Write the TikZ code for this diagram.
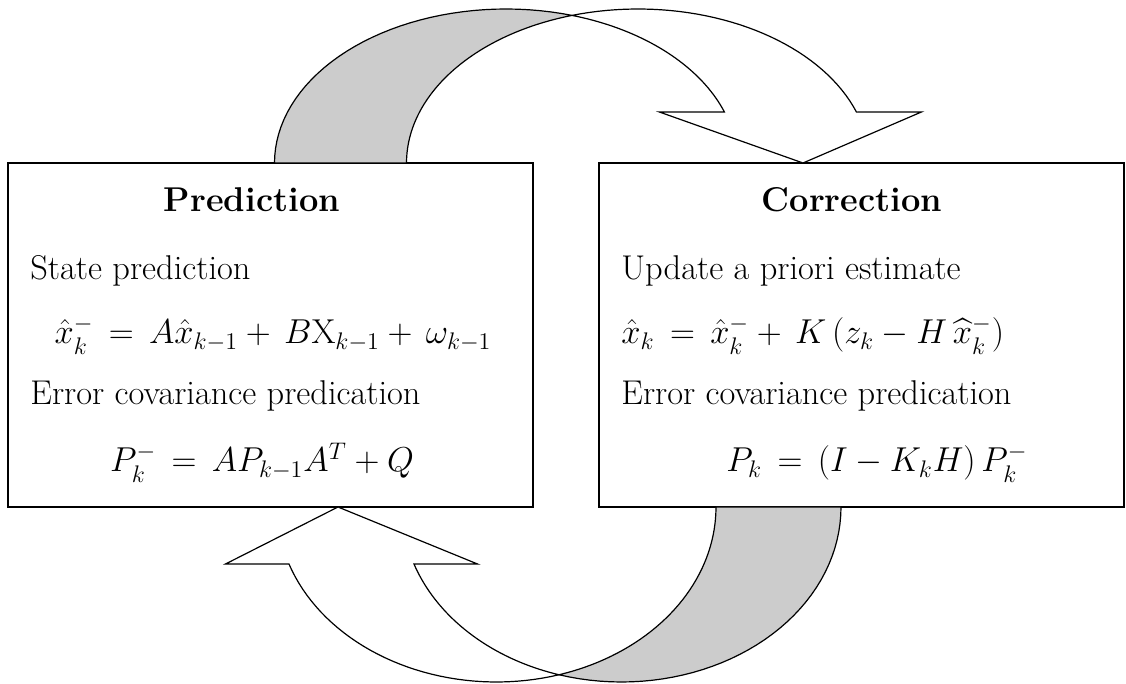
\documentclass[tikz,border=0pt]{standalone}
\usepackage{amsmath, amssymb}
\usepackage{tikz}
\usetikzlibrary{positioning,calc}
\definecolor{BandGray}{RGB}{204,204,204}

\begin{document}
\begin{tikzpicture}[x=0.5pt, y=-0.5pt,
    box/.style={rectangle, draw=black, line width=0.8pt, fill=white,
        minimum width=262.5pt, minimum height=172pt, inner sep=0pt},
    txt/.style={inner sep=0pt, anchor=base west, font=\fontsize{17.2}{19}\selectfont},
    eqn/.style={inner sep=0pt, anchor=base, font=\fontsize{17.2}{19}\selectfont},
    eqnl/.style={eqn, anchor=base west},
    ttl/.style={inner sep=0pt, anchor=base, font=\fontsize{17.2}{19}\selectfont\bfseries},
    band/.style={draw=black, line width=0.6pt, line join=miter},
]
\useasboundingbox (0,0) rectangle (1126,684);

% the two boxes
\node[box] (pred) at (270.5,335) {};
\node[box] (corr) at (861.5,335) {};

% upper curved arrow: back side (gray), then front side with head
\filldraw[band, fill=BandGray] (274.5,163)
    -- plot[domain=180:73.4, samples=40] ({506+231.5*cos(\x)},{163-154*sin(\x)})
    -- plot[domain=106.6:180, samples=40] ({638+231.5*cos(\x)},{163-154*sin(\x)})
    -- cycle;
\filldraw[band, fill=white]
    plot[domain=73.4:19.3, samples=40] ({506+231.5*cos(\x)},{163-154*sin(\x)})
    -- (659.4,112) -- (803,163) -- (921.4,112)
    -- plot[domain=19.3:106.6, samples=40] ({638+231.5*cos(\x)},{163-154*sin(\x)})
    -- cycle;

% lower curved arrow
\filldraw[band, fill=BandGray] (841,507)
    -- plot[domain=0:106.5, samples=40] ({621.5+219.5*cos(\x)},{507+175*sin(\x)})
    -- plot[domain=73.5:0, samples=40] ({496.5+219.5*cos(\x)},{507+175*sin(\x)})
    -- cycle;
\filldraw[band, fill=white]
    plot[domain=106.5:161, samples=40] ({621.5+219.5*cos(\x)},{507+175*sin(\x)})
    -- (477.5,564) -- (338,507) -- (225.5,564)
    -- plot[domain=161:73.5, samples=40] ({496.5+219.5*cos(\x)},{507+175*sin(\x)})
    -- cycle;

% prediction text
\node[ttl] (predTitle) at (252,212) {Prediction};
\node[txt] (predState) at (30,280) {State prediction};
\node[eqn] (predEqX) at (273,344)
    {$\hat{x}_k^- \,=\, A\hat{x}_{k-1} + \, B\mathrm{X}_{k-1} + \,\omega_{k-1}$};
\node[txt] (predCov) at (30,405) {Error covariance predication};
\node[eqn] (predEqP) at (262,472) {$P_k^- \,=\, AP_{k-1}A^T + Q$};

% correction text
\node[ttl] (corrTitle) at (852,212) {Correction};
\node[txt] (corrState) at (621,280) {Update a priori estimate};
\node[eqnl] (corrEqX) at (621,344)
    {$\hat{x}_k \,=\, \hat{x}_k^- + \, K\,(z_k - H\,\widehat{x}_k^-)$};
\node[txt] (corrCov) at (621,405) {Error covariance predication};
\node[eqnl] (corrEqP) at (726,472) {$P_k \,=\, (I - K_kH)\,P_k^-$};
\end{tikzpicture}
\end{document}
